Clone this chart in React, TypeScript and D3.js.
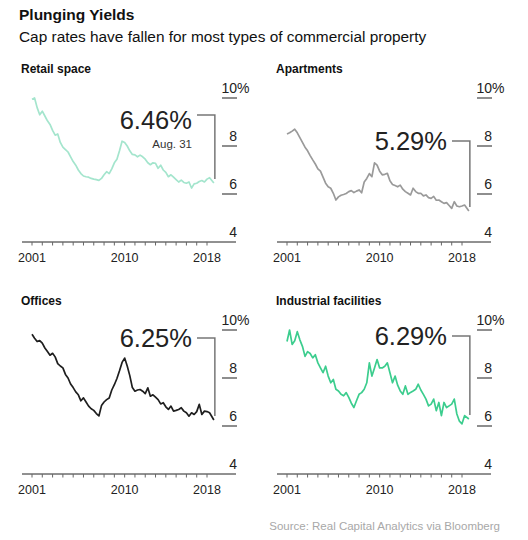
import React from "react";
import * as d3 from "d3";

// quarterly readings, last one is Aug. 31 2018
const dates = d3.range(70).map((i) => 2001 + i / 4).concat([2018 + 8 / 12]);

const retail = [
  9.95, 10.0, 9.6, 9.3, 9.45, 9.25, 9.05, 8.9, 8.65, 8.45, 8.5, 8.15, 7.95, 7.85, 7.75, 7.55,
  7.35, 7.2, 7.0, 6.85, 6.75, 6.72, 6.7, 6.65, 6.62, 6.6, 6.57, 6.65, 6.8, 6.93, 6.85, 7.05,
  7.3, 7.45, 7.8, 8.2, 8.15, 8.0, 7.8, 7.65, 7.63, 7.55, 7.62, 7.55, 7.45, 7.3, 7.22, 7.3,
  7.28, 7.07, 7.2, 7.0, 6.9, 6.72, 6.8, 6.7, 6.6, 6.5, 6.58, 6.48, 6.45, 6.5, 6.25, 6.42,
  6.45, 6.52, 6.56, 6.5, 6.62, 6.68, 6.46,
];

const apartments = [
  8.5, 8.55, 8.62, 8.7, 8.55, 8.35, 8.15, 7.95, 7.8, 7.6, 7.42, 7.25, 7.05, 6.95, 6.7, 6.45,
  6.3, 6.24, 6.03, 5.75, 5.88, 5.95, 5.98, 6.02, 6.1, 6.14, 6.06, 6.12, 6.17, 6.05, 6.5, 6.65,
  6.85, 6.72, 7.3, 7.2, 6.95, 6.8, 6.82, 6.86, 6.55, 6.4, 6.35, 6.3, 6.37, 6.2, 6.1, 6.03,
  5.96, 6.24, 6.1, 6.03, 6.03, 5.92, 5.96, 5.85, 5.82, 5.9, 5.74, 5.75, 5.68, 5.61, 5.64, 5.52,
  5.4, 5.68, 5.5, 5.47, 5.5, 5.54, 5.29,
];

const offices = [
  9.82, 9.66, 9.52, 9.56, 9.45, 9.25, 9.1, 8.95, 9.03, 8.88, 8.6, 8.5, 8.42, 8.15, 8.0, 7.75,
  7.6, 7.42, 7.3, 7.05, 7.17, 7.0, 6.83, 6.72, 6.65, 6.52, 6.42, 6.85, 7.0, 7.1, 7.17, 7.5,
  7.72, 7.98, 8.3, 8.65, 8.83, 8.5, 8.1, 7.6, 7.45, 7.5, 7.52, 7.45, 7.35, 7.59, 7.24, 7.3,
  7.2, 7.1, 6.92, 6.97, 6.8, 6.69, 6.83, 6.62, 6.65, 6.69, 6.76, 6.62, 6.55, 6.41, 6.55, 6.48,
  6.6, 6.9, 6.48, 6.62, 6.6, 6.55, 6.25,
];

const industrial = [
  9.52, 10.0, 9.4, 9.55, 9.93, 9.59, 9.32, 8.9, 9.1, 9.02, 8.84, 8.97, 8.63, 8.42, 8.22, 8.49,
  8.08, 7.8, 7.94, 7.53, 7.46, 7.32, 7.26, 7.39, 7.19, 6.95, 6.77, 7.05, 7.32, 7.39, 7.53, 7.8,
  8.63, 8.08, 8.42, 8.77, 8.42, 8.42, 8.49, 8.63, 8.22, 7.8, 8.08, 7.7, 7.46, 7.32, 7.67, 7.32,
  7.4, 7.46, 7.53, 7.74, 7.5, 7.32, 7.12, 6.84, 6.91, 7.12, 6.64, 6.98, 6.43, 6.98, 6.77, 6.84,
  6.91, 7.12, 6.5, 6.2, 6.09, 6.43, 6.29,
];

const tickYears = d3.range(2001, 2019);
const yearLabels = [2001, 2010, 2018];
const rateTicks = [4, 6, 8, 10];

const panels = [
  { title: "Retail space", values: retail, color: "#a4e5cd", dx: 0, dy: 0, note: "Aug. 31", labelY: 129, bracketY: 115 },
  { title: "Apartments", values: apartments, color: "#9a9a9a", dx: 255, dy: 0, note: "", labelY: 150, bracketY: 141 },
  { title: "Offices", values: offices, color: "#1e1e1e", dx: 0, dy: 232, note: "", labelY: 115, bracketY: 106 },
  { title: "Industrial facilities", values: industrial, color: "#3ccd8e", dx: 255, dy: 232, note: "", labelY: 113, bracketY: 104 },
];

const font = "'Liberation Sans', Arial, sans-serif";

type PanelSpec = (typeof panels)[number];

function Panel({ p }: { p: PanelSpec }) {
  const x = d3.scaleLinear().domain([2001, 2018]).range([32, 207]);
  const y = d3.scaleLinear().domain([4, 10]).range([242, 98]);
  const line = d3
    .line<number>()
    .x((_, i) => x(dates[i]))
    .y((d) => y(d));

  const last = p.values.length - 1;
  const lastX = x(dates[last]);
  const lastY = y(p.values[last]);
  const vx = lastX + 1;

  return (
    <g transform={`translate(${p.dx},${p.dy})`}>
      <text x={21} y={73} fontSize={12} fontWeight="bold" fill="#111">
        {p.title}
      </text>

      {/* right hand rate scale */}
      {rateTicks
        .filter((t) => t > 4)
        .map((t) => (
          <line key={t} x1={222} x2={237} y1={y(t)} y2={y(t)} stroke="#444" strokeWidth={1.2} />
        ))}
      {rateTicks.map((t) => (
        <text key={t} x={237} y={y(t) - 5.5} fontSize={14} textAnchor="end" fill="#222">
          {t}
        </text>
      ))}
      <text x={237} y={y(10) - 5.5} fontSize={14} fill="#222">
        %
      </text>

      {/* time axis */}
      <line x1={22} x2={236} y1={y(4)} y2={y(4)} stroke="#222" strokeWidth={1} />
      {tickYears.map((yr) => (
        <line key={yr} x1={x(yr)} x2={x(yr)} y1={y(4)} y2={y(4) + 3.5} stroke="#666" strokeWidth={1} />
      ))}
      {yearLabels.map((yr) => (
        <text key={yr} x={x(yr)} y={y(4) + 20} fontSize={12.5} textAnchor="middle" fill="#222">
          {yr}
        </text>
      ))}

      <path
        d={line(p.values) ?? ""}
        fill="none"
        stroke={p.color}
        strokeWidth={1.7}
        strokeLinejoin="round"
      />

      {/* latest value callout */}
      <text x={192} y={p.labelY} fontSize={25.5} textAnchor="end" fill="#222">
        {p.values[last].toFixed(2)}%
      </text>
      {p.note && (
        <text x={192} y={p.labelY + 19} fontSize={11.5} textAnchor="end" fill="#333">
          {p.note}
        </text>
      )}
      <path
        d={`M197,${p.bracketY}H${vx}V${lastY - 4}`}
        fill="none"
        stroke="#777"
        strokeWidth={1.5}
      />
    </g>
  );
}

export default function App() {
  return (
    <svg
      width={528}
      height={540}
      style={{ position: "absolute", left: 0, top: 0, background: "#fff" }}
      fontFamily={font}
    >
      <text x={19} y={20} fontSize={15.5} fontWeight="bold" fill="#111">
        Plunging Yields
      </text>
      <text x={19} y={42} fontSize={15.4} fill="#111">
        Cap rates have fallen for most types of commercial property
      </text>
      {panels.map((p) => (
        <Panel key={p.title} p={p} />
      ))}
      <text x={500} y={530} fontSize={11.5} textAnchor="end" fill="#a8a8a8">
        Source: Real Capital Analytics via Bloomberg
      </text>
    </svg>
  );
}
